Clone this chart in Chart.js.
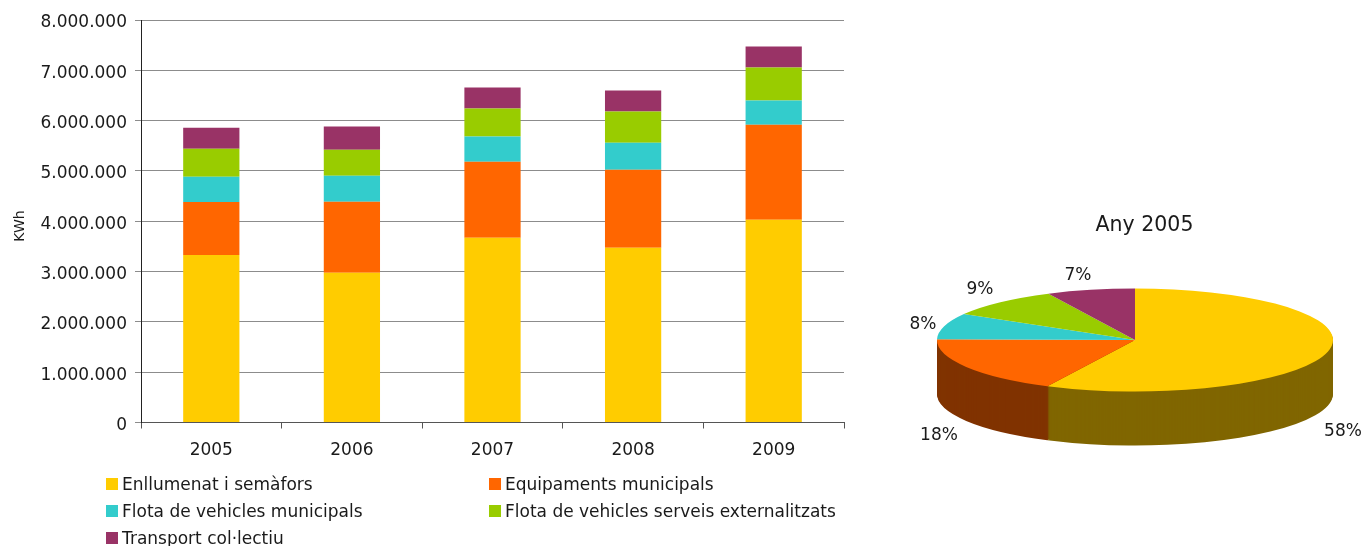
<!DOCTYPE html>
<html>
<head>
<meta charset="utf-8">
<script src="https://cdn.jsdelivr.net/npm/chart.js@4"></script>
<style>
    html, body { margin: 0; padding: 0; background: #fff; overflow: hidden; }
    #wrap { position: relative; width: 1365px; height: 546px; }
    #bars { position: absolute; left: 0; top: 0; }
    #pie { position: absolute; left: 865px; top: 0; }
    .legend-item {
        position: absolute;
        font: 17px "DejaVu Sans", sans-serif;
        color: #1a1a1a;
        line-height: 20px;
        white-space: nowrap;
    }
    .legend-item i {
        position: absolute;
        left: -16px;
        top: 4px;
        width: 12px;
        height: 12px;
    }
</style>
</head>
<body>
<div id="wrap">
    <canvas id="bars"></canvas>
    <canvas id="pie"></canvas>
</div>
<script>
const years = ['2005', '2006', '2007', '2008', '2009'];

const seriesNames = [
    'Enllumenat i semàfors',
    'Equipaments municipals',
    'Flota de vehicles municipals',
    'Flota de vehicles serveis externalitzats',
    'Transport col·lectiu'
];
const seriesColors = ['#FFCC00', '#FF6600', '#33CCCC', '#99CC00', '#993366'];

const lighting = [3330000, 2975000, 3672000, 3473000, 4030000];
const buildings = [1055000, 1413000, 1512000, 1552000, 1890000];
const fleet = [500000, 517000, 498000, 537000, 478000];
const outsourced = [557000, 518000, 557000, 617000, 657000];
const transport = [418000, 458000, 418000, 418000, 418000];

const pieTitle = 'Any 2005';
const pieValues = [57.3, 17.9, 8.2, 9.4, 7.2];
const pieLabels = ['58%', '18%', '8%', '9%', '7%'];
const pieSideColors = ['#806600', '#803300', null, null, null];

const textColor = '#1a1a1a';
const fontName = '"DejaVu Sans", sans-serif';

function drawBars() {
    const allSeries = [lighting, buildings, fleet, outsourced, transport];

    // axis title sits a bit below the middle of the axis, so it is drawn by hand
    const unitPlugin = {
        id: 'unit',
        afterDraw(chart) {
            const ctx = chart.ctx;
            ctx.save();
            ctx.translate(20, 226);
            ctx.rotate(-Math.PI / 2);
            ctx.fillStyle = textColor;
            ctx.textAlign = 'center';
            ctx.textBaseline = 'middle';
            ctx.font = '14px ' + fontName;
            ctx.fillText('KWh', 0, 0);
            ctx.restore();
        }
    };

    new Chart(document.getElementById('bars'), {
        type: 'bar',
        data: {
            labels: years,
            datasets: allSeries.map((values, i) => ({
                label: seriesNames[i],
                data: values,
                backgroundColor: seriesColors[i],
                borderWidth: 0,
                barPercentage: 0.4,
                categoryPercentage: 1
            }))
        },
        options: {
            responsive: false,
            animation: false,
            layout: { padding: { top: 20, right: 16 } },
            plugins: { legend: { display: false }, tooltip: { enabled: false } },
            scales: {
                x: {
                    stacked: true,
                    afterFit: scale => { scale.height = 123.5; },
                    border: { color: '#555555' },
                    grid: { drawOnChartArea: false, tickLength: 6, color: '#555555' },
                    ticks: { color: textColor, font: { family: fontName, size: 17 }, padding: 12, maxRotation: 0 }
                },
                y: {
                    stacked: true,
                    min: 0,
                    max: 8000000,
                    afterFit: scale => { scale.width = 141; },
                    border: { color: '#222222' },
                    grid: { color: '#8c8c8c', tickLength: 6 },
                    ticks: {
                        stepSize: 1000000,
                        color: textColor,
                        font: { family: fontName, size: 17 },
                        padding: 8,
                        labelOffset: 3,
                        callback: v => String(v).replace(/\B(?=(\d{3})+$)/g, '.')
                    }
                }
            }
        },
        plugins: [unitPlugin]
    });
}

function drawLegend() {
    const spots = [[122, 474], [505, 474], [122, 501], [505, 501], [122, 528]];
    const wrap = document.getElementById('wrap');

    seriesNames.forEach((name, i) => {
        const item = document.createElement('div');
        item.className = 'legend-item';
        item.style.left = spots[i][0] + 'px';
        item.style.top = spots[i][1] + 'px';
        item.innerHTML = '<i style="background:' + seriesColors[i] + '"></i>' + name;
        wrap.appendChild(item);
    });
}

function drawPie() {
    const squash = 0.26;
    const depth = 54;
    const labelSpots = [[478, 432], [74, 436], [58, 325], [115, 290], [213, 276]];

    // the 3d look: flatten the pie and stack darker copies of the front slices
    const tiltPlugin = {
        id: 'tilt',
        beforeDatasetsDraw(chart) {
            const ctx = chart.ctx;
            const arcs = chart.getDatasetMeta(0).data;
            const cx = arcs[0].x;
            const cy = arcs[0].y;

            ctx.save();
            ctx.translate(cx, cy);
            ctx.scale(1, squash);
            ctx.translate(-cx, -cy);

            [1, 0].forEach(i => {
                const base = arcs[i].options;
                arcs[i].options = { ...base, backgroundColor: pieSideColors[i] };
                for (let d = depth; d > 0; d--) {
                    ctx.save();
                    ctx.translate(0, d / squash);
                    arcs[i].draw(ctx);
                    ctx.restore();
                }
                arcs[i].options = base;
            });
        },
        afterDatasetsDraw(chart) {
            chart.ctx.restore();
        },
        afterDraw(chart) {
            const ctx = chart.ctx;
            ctx.save();
            ctx.fillStyle = textColor;
            ctx.textAlign = 'center';
            ctx.textBaseline = 'middle';
            ctx.font = '17px ' + fontName;
            pieLabels.forEach((text, i) => {
                ctx.fillText(text, labelSpots[i][0], labelSpots[i][1]);
            });
            ctx.font = '20.5px ' + fontName;
            ctx.fillText(pieTitle, 279.5, 226);
            ctx.restore();
        }
    };

    new Chart(document.getElementById('pie'), {
        type: 'pie',
        data: {
            labels: seriesNames,
            datasets: [{
                data: pieValues,
                backgroundColor: seriesColors,
                borderWidth: 0
            }]
        },
        options: {
            responsive: false,
            animation: false,
            layout: { padding: { left: 72, right: 32, top: 142, bottom: 8 } },
            plugins: { legend: { display: false }, tooltip: { enabled: false } }
        },
        plugins: [tiltPlugin]
    });
}

const barsCanvas = document.getElementById('bars');
barsCanvas.width = 860;
barsCanvas.height = 546;
const pieCanvas = document.getElementById('pie');
pieCanvas.width = 500;
pieCanvas.height = 546;

drawBars();
drawLegend();
drawPie();
</script>
</body>
</html>
